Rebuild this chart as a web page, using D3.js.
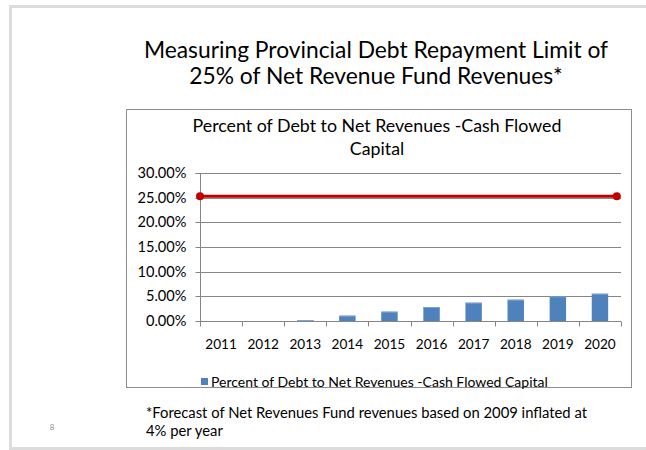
<!DOCTYPE html>
<html>
<head>
<meta charset="utf-8">
<script src="https://cdn.jsdelivr.net/npm/d3@7"></script>
<style>
  html, body { margin: 0; padding: 0; background: #fff; }
  svg { display: block; }
  text { font-family: Lato, "Open Sans", sans-serif; fill: #000; }
</style>
</head>
<body>
<svg id="chart" width="646" height="450"></svg>
<script>
// Years on the category axis
const years = ["2011", "2012", "2013", "2014", "2015", "2016", "2017", "2018", "2019", "2020"];
// Percent of debt to net revenues (cash flowed capital), in %
const debtPct = [0, 0, 0.2, 1.08, 1.89, 2.83, 3.71, 4.32, 4.99, 5.53];
// Repayment limit line, in %
const limitPct = 25.3;
// Value axis ticks, in %
const yTicks = [0, 5, 10, 15, 20, 25, 30];

const slideTitle = ["Measuring Provincial Debt Repayment Limit of", "25% of Net Revenue Fund Revenues*"];
const chartTitle = ["Percent of Debt to Net Revenues -Cash Flowed", "Capital"];
const legendLabel = "Percent of Debt to Net Revenues -Cash Flowed Capital";
const footnote = ["*Forecast of Net Revenues Fund revenues based on 2009 inflated at", "4% per year"];
const pageNumber = "8";

const svg = d3.select("#chart");

// slide frame
svg.append("rect")
  .attr("x", 10.5).attr("y", 6.5).attr("width", 660).attr("height", 442)
  .attr("fill", "#fff").attr("stroke", "#dcdcdc").attr("stroke-width", 3);

// slide title
svg.append("text")
  .attr("x", 376).attr("y", 58)
  .attr("text-anchor", "middle").attr("font-size", 22.8)
  .selectAll("tspan").data(slideTitle).join("tspan")
  .attr("x", 376).attr("dy", (d, i) => i ? 26 : 0).text(d => d);

// chart frame
svg.append("rect")
  .attr("x", 126.5).attr("y", 109.5).attr("width", 505).attr("height", 278)
  .attr("fill", "#fff").attr("stroke", "#8c8c8c").attr("stroke-width", 1);

// chart title
svg.append("text")
  .attr("x", 377).attr("y", 132)
  .attr("text-anchor", "middle").attr("font-size", 17.8)
  .selectAll("tspan").data(chartTitle).join("tspan")
  .attr("x", 377).attr("dy", (d, i) => i ? 22.5 : 0).text(d => d);

const plot = { left: 200, right: 621, top: 173, bottom: 321 };

const x = d3.scaleBand().domain(years).range([plot.left, plot.right]).padding(0);
const y = d3.scaleLinear().domain([0, 30]).range([plot.bottom, plot.top]);

// gridlines
svg.append("g")
  .selectAll("line").data(yTicks).join("line")
  .attr("x1", plot.left).attr("x2", plot.right)
  .attr("y1", d => Math.round(y(d)) + 0.5).attr("y2", d => Math.round(y(d)) + 0.5)
  .attr("stroke", "#868686").attr("stroke-width", 1);

// value axis
const yAxis = svg.append("g")
  .attr("transform", `translate(${plot.left + 0.5},0.5)`)
  .call(d3.axisLeft(y).tickValues(yTicks).tickSize(5).tickPadding(9)
    .tickFormat(d => d3.format(".2f")(d) + "%"));
yAxis.select(".domain").attr("stroke", "#868686").attr("d", `M-5,${Math.round(y(30))}H0V${Math.round(y(0))}`);
yAxis.selectAll(".tick line").attr("stroke", "#868686");
yAxis.selectAll(".tick text").attr("font-size", 14.6).attr("font-family", "Lato, sans-serif").attr("fill", "#000");
yAxis.selectAll(".tick").attr("transform", d => `translate(0,${Math.round(y(d))})`);

// bars
const barW = x.bandwidth() * 0.39;
const barData = years.map((yr, i) => ({ yr, v: debtPct[i] }));
const bars = svg.append("g");
bars.selectAll("rect").data(barData).join("rect")
  .attr("x", d => x(d.yr) + (x.bandwidth() - barW) / 2)
  .attr("y", d => y(d.v))
  .attr("width", barW)
  .attr("height", d => y(0) - y(d.v))
  .attr("fill", "#4f81bd");
// light top edge of each bar
bars.selectAll("line").data(barData.filter(d => d.v > 0)).join("line")
  .attr("x1", d => x(d.yr) + (x.bandwidth() - barW) / 2)
  .attr("x2", d => x(d.yr) + (x.bandwidth() + barW) / 2)
  .attr("y1", d => y(d.v) + 0.5).attr("y2", d => y(d.v) + 0.5)
  .attr("stroke", "#7fa3d0").attr("stroke-width", 1);

// category axis
const xAxis = svg.append("g")
  .attr("transform", `translate(0,${Math.round(y(0)) + 0.5})`)
  .call(d3.axisBottom(x).tickSize(0).tickPadding(18));
xAxis.select(".domain").attr("stroke", "#868686").attr("d", `M${plot.left},0H${plot.right}`);
xAxis.selectAll(".tick text").attr("font-size", 13.6).attr("font-family", "Lato, sans-serif").attr("fill", "#000");
// boundary tick marks between categories
xAxis.append("g").selectAll("line")
  .data(years.map(yr => x(yr)).concat([plot.right]))
  .join("line")
  .attr("x1", d => Math.round(d) + 0.5).attr("x2", d => Math.round(d) + 0.5)
  .attr("y1", 0).attr("y2", 5)
  .attr("stroke", "#868686");

// repayment limit line
const xLim = d3.scaleLinear().domain([2010.5, 2020.5]).range([plot.left, plot.right]);
const limitPts = [2010.5, 2020.4].map(t => [xLim(t), y(limitPct)]);
svg.append("path")
  .attr("d", d3.line()(limitPts))
  .attr("stroke", "#c00000").attr("stroke-width", 3).attr("fill", "none");
svg.append("g").selectAll("circle").data(limitPts).join("circle")
  .attr("cx", d => d[0]).attr("cy", d => d[1]).attr("r", 4)
  .attr("fill", "#c00000");

// legend
const legend = svg.append("g").attr("transform", "translate(201,382)");
legend.append("rect").attr("x", 0).attr("y", -4).attr("width", 7).attr("height", 7).attr("fill", "#4f81bd");
legend.append("text").attr("x", 10).attr("y", 5).attr("font-size", 14).text(legendLabel);

// footnote
svg.append("text")
  .attr("x", 146).attr("y", 418)
  .attr("font-size", 14.8)
  .selectAll("tspan").data(footnote).join("tspan")
  .attr("x", 146).attr("dy", (d, i) => i ? 18 : 0).text(d => d);

// page number
svg.append("text")
  .attr("x", 52).attr("y", 430)
  .attr("text-anchor", "middle").attr("font-size", 8)
  .style("fill", "#8c8c8c")
  .text(pageNumber);
</script>
</body>
</html>
